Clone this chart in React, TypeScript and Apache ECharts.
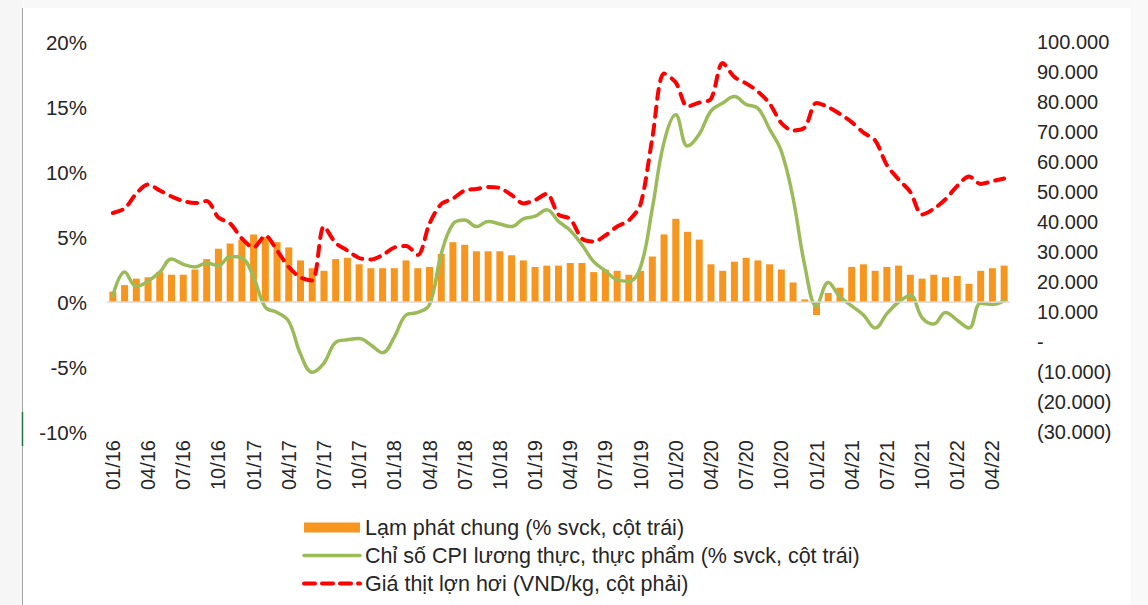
import React, { useEffect, useRef } from "react";
import * as echarts from "echarts";

const monthCodes = ["01", "02", "03", "04", "05", "06", "07", "08", "09", "10", "11", "12"];
const yearCodes = ["16", "17", "18", "19", "20", "21", "22"];
const categories: string[] = yearCodes
  .flatMap((y) => monthCodes.map((m) => `${m}/${y}`))
  .slice(0, 77);

// Lạm phát chung (% svck) – bars, left axis
const infl2016 = [0.8, 1.3, 1.8, 1.9, 2.3, 2.1, 2.1, 2.5, 3.3, 4.1, 4.5, 4.8];
const infl2017 = [5.2, 5.0, 4.6, 4.2, 3.2, 2.6, 2.4, 3.3, 3.4, 2.9, 2.6, 2.6];
const infl2018 = [2.6, 3.2, 2.6, 2.7, 3.7, 4.6, 4.4, 3.9, 3.9, 3.9, 3.6, 3.2];
const infl2019 = [2.7, 2.8, 2.8, 3.0, 3.0, 2.3, 2.5, 2.4, 2.1, 2.4, 3.5, 5.2];
const infl2020 = [6.4, 5.4, 4.8, 2.9, 2.4, 3.1, 3.4, 3.2, 2.9, 2.5, 1.5, 0.2];
const infl2021 = [-1.0, 0.7, 1.1, 2.7, 2.9, 2.4, 2.7, 2.8, 2.1, 1.8, 2.1, 1.9];
const infl2022 = [2.0, 1.4, 2.4, 2.6, 2.8];

// Chỉ số CPI lương thực, thực phẩm (% svck) – green line, left axis
const food2016 = [0.5, 2.3, 1.2, 1.6, 2.3, 3.3, 2.9, 2.7, 3.0, 2.8, 3.5, 3.4];
const food2017 = [1.9, -0.4, -0.8, -1.5, -4.0, -5.4, -4.7, -3.1, -2.9, -2.8, -3.3, -3.9];
const food2018 = [-2.7, -1.0, -0.8, -0.2, 3.7, 6.0, 6.3, 5.8, 6.2, 6.0, 5.8, 6.4];
const food2019 = [6.6, 7.1, 6.2, 5.5, 4.4, 3.1, 2.4, 1.7, 1.6, 2.7, 7.2, 12.3];
const food2020 = [14.4, 12.0, 12.9, 14.7, 15.3, 15.8, 15.2, 14.9, 13.3, 11.6, 8.0, 2.8];
const food2021 = [-0.3, 1.5, 0.4, -0.3, -1.0, -2.0, -0.9, 0.0, 0.5, -1.2, -1.7, -0.8];
const food2022 = [-1.4, -2.0, -0.1, -0.2, 0.1];

// Giá thịt lợn hơi (VND/kg) – red dashed line, right axis
const pork2016 = [43000, 44500, 49500, 52500, 50500, 48500, 47000, 46300, 47000, 41500, 39500, 34500];
const pork2017 = [31500, 35500, 30500, 25000, 21500, 20500, 38500, 33000, 30500, 28000, 27500, 29000];
const pork2018 = [31500, 32000, 29000, 39500, 46000, 47800, 50500, 51000, 51700, 51300, 49000, 46200];
const pork2019 = [47300, 49400, 42500, 41000, 34500, 33500, 35500, 38500, 40500, 46000, 68000, 89500];
const pork2020 = [86500, 78500, 79800, 81000, 93000, 88300, 86200, 83500, 79500, 73000, 70500, 71500];
const pork2021 = [79700, 78300, 76000, 73300, 69800, 67200, 59000, 54200, 50000, 42500, 44400, 47600];
const pork2022 = [52000, 55200, 52700, 53600, 54500];

const inflation = [...infl2016, ...infl2017, ...infl2018, ...infl2019, ...infl2020, ...infl2021, ...infl2022];
const foodCpi = [...food2016, ...food2017, ...food2018, ...food2019, ...food2020, ...food2021, ...food2022];
const porkPrice = [...pork2016, ...pork2017, ...pork2018, ...pork2019, ...pork2020, ...pork2021, ...pork2022];

const seriesNames = [
  "Lạm phát chung (% svck, cột trái)",
  "Chỉ số CPI lương thực, thực phẩm (% svck, cột trái)",
  "Giá thịt lợn hơi (VND/kg, cột phải)",
];

const FONT = "'Liberation Sans', Arial, sans-serif";
const TEXT = "#262626";
const TRANSPARENT = "rgba(0,0,0,0)";

function fmtRight(v: number): string {
  if (v === 0) return "-";
  const s = Math.abs(v).toString().replace(/\B(?=(\d{3})+(?!\d))/g, ".");
  return v < 0 ? `(${s})` : s;
}

export default function App() {
  const ref = useRef<HTMLDivElement>(null);

  useEffect(() => {
    if (!ref.current) return;
    const chart = echarts.init(ref.current, null, { renderer: "svg" });
    chart.setOption({
      animation: false,
      backgroundColor: "#ffffff",
      textStyle: { fontFamily: FONT },
      graphic: [
        { type: "rect", shape: { x: 0, y: 0, width: 22, height: 605 }, style: { fill: "#f6f6f6" }, silent: true },
        { type: "rect", shape: { x: 22, y: 0, width: 1109, height: 8 }, style: { fill: "#f8f8f8" }, silent: true },
        { type: "rect", shape: { x: 1131, y: 0, width: 17, height: 605 }, style: { fill: "#f9f9f9" }, silent: true },
        { type: "line", shape: { x1: 22.5, y1: 8, x2: 22.5, y2: 605 }, style: { stroke: "#a6a6a6", lineWidth: 1 }, silent: true },
        { type: "line", shape: { x1: 22.5, y1: 412, x2: 22.5, y2: 446 }, style: { stroke: "#217346", lineWidth: 1.5 }, silent: true },
      ],
      grid: { left: 107, right: 138, top: 42, bottom: 173, containLabel: false },
      legend: {
        orient: "vertical",
        left: 297,
        top: 511,
        itemWidth: 56,
        itemHeight: 10,
        itemGap: 5,
        textStyle: { fontSize: 21.5, lineHeight: 23, color: TEXT, fontFamily: FONT },
        data: [
          { name: seriesNames[0], icon: "rect", itemStyle: { color: "#F7961F" } },
          { name: seriesNames[1], lineStyle: { width: 3.5, color: "#9BBB59" } },
          { name: seriesNames[2], lineStyle: { width: 4, color: "#FF0000", type: [11, 7] } },
        ],
      },
      xAxis: {
        type: "category",
        data: categories,
        boundaryGap: true,
        axisLine: { show: false, onZero: false },
        axisTick: { show: false },
        axisLabel: {
          interval: 2,
          rotate: 90,
          margin: 8,
          fontSize: 20,
          color: TEXT,
          fontFamily: FONT,
        },
        splitLine: { show: false },
      },
      yAxis: [
        {
          type: "value",
          min: -10,
          max: 20,
          interval: 5,
          axisLine: { show: false },
          axisTick: { show: false },
          splitLine: { show: false },
          axisLabel: {
            formatter: (v: number) => `${v}%`,
            fontSize: 20.5,
            color: TEXT,
            margin: 20,
            fontFamily: FONT,
          },
        },
        {
          type: "value",
          min: -30000,
          max: 100000,
          interval: 10000,
          axisLine: { show: false },
          axisTick: { show: false },
          splitLine: { show: false },
          axisLabel: {
            formatter: fmtRight,
            fontSize: 20,
            color: TEXT,
            margin: 27,
            align: "left",
            fontFamily: FONT,
          },
        },
      ],
      series: [
        {
          name: seriesNames[0],
          type: "bar",
          yAxisIndex: 0,
          data: inflation,
          barWidth: 7,
          itemStyle: { color: "#F7961F" },
          markLine: {
            silent: true,
            symbol: ["none", "none"],
            label: { show: false },
            lineStyle: { color: "#d9d9d9", width: 1.5, type: "solid" },
            data: [{ yAxis: 0 }],
          },
          z: 1,
        },
        {
          name: seriesNames[1],
          type: "line",
          yAxisIndex: 0,
          data: foodCpi,
          symbol: "none",
          smooth: 0.4,
          lineStyle: { color: "#9BBB59", width: 3.5, cap: "round", join: "round" },
          itemStyle: { color: TRANSPARENT },
          z: 3,
        },
        {
          name: seriesNames[2],
          type: "line",
          yAxisIndex: 1,
          data: porkPrice,
          symbol: "none",
          smooth: 0.3,
          lineStyle: { color: "#FF0000", width: 4, type: [10, 8], cap: "round", join: "round" },
          itemStyle: { color: TRANSPARENT },
          z: 4,
        },
      ],
    });
    return () => chart.dispose();
  }, []);

  return (
    <div
      ref={ref}
      style={{ position: "fixed", left: 0, top: 0, width: 1148, height: 605 }}
    />
  );
}
